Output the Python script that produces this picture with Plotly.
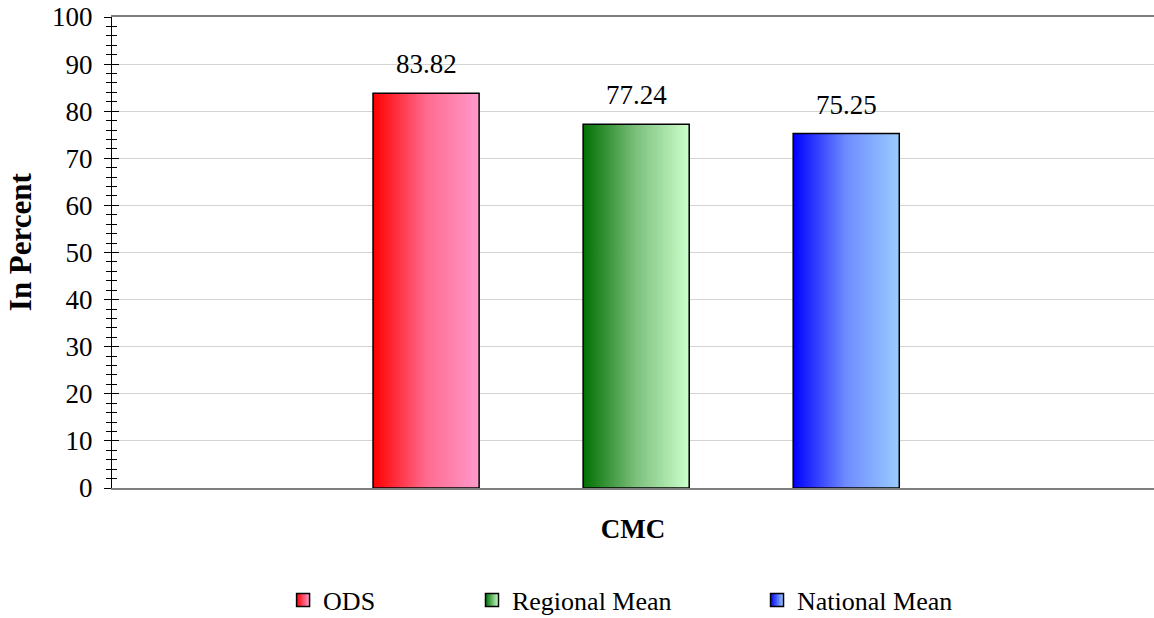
import plotly.graph_objects as go

categories = ["ODS", "Regional Mean", "National Mean"]
values = [83.82, 77.24, 75.25]
value_labels = ["83.82", "77.24", "75.25"]
group_label = "CMC"
y_title = "In Percent"
y_ticks = [0, 10, 20, 30, 40, 50, 60, 70, 80, 90, 100]

gradients = [
    [[0, "#ff0000"], [0.5, "#ff6a8e"], [1, "#ff99cc"]],
    [[0, "#007000"], [0.5, "#7cc07c"], [1, "#ccffcc"]],
    [[0, "#0000ff"], [0.5, "#6f8cff"], [1, "#99ccff"]],
]
legend_x = [0.2453, 0.4090, 0.6560]

FONT = "Liberation Serif"
FS = 27
bar_width = 0.505

fig = go.Figure()
for i, (name, v) in enumerate(zip(categories, values)):
    x0, x1 = i - bar_width / 2, i + bar_width / 2
    fig.add_trace(go.Scatter(
        x=[x0, x0, x1, x1, x0], y=[0, v, v, 0, 0],
        mode="lines", fill="toself",
        fillgradient=dict(type="horizontal", colorscale=gradients[i]),
        line=dict(color="black", width=1.5),
        name=name, showlegend=False, hoverinfo="skip",
    ))
    # legend entry with gradient square
    fig.add_trace(go.Scatter(
        x=[None], y=[None], mode="markers", name=name,
        marker=dict(symbol="square", size=13, color=gradients[i][0][1],
                    gradient=dict(type="horizontal", color=gradients[i][-1][1]),
                    line=dict(color="black", width=1.5)),
        legend="legend" if i == 0 else f"legend{i+1}",
    ))

for i, (v, t) in enumerate(zip(values, value_labels)):
    fig.add_annotation(x=i, y=v, text=t, showarrow=False, yanchor="bottom",
                       yshift=12, font=dict(family=FONT, size=FS, color="black"))

fig.add_annotation(xref="paper", yref="paper", x=-0.0883, y=0.524, text="<b>" + y_title + "</b>",
                   textangle=-90, showarrow=False, xanchor="center", yanchor="middle",
                   font=dict(family=FONT, size=31, color="black"))

# invisible trace to activate the overlay axis for crossing ticks
fig.add_trace(go.Scatter(x=[0], y=[0], yaxis="y2", mode="markers",
                         marker=dict(opacity=0), showlegend=False, hoverinfo="skip"))

legend_common = dict(orientation="h", xref="container", yref="container",
                     y=0.0291, yanchor="middle", xanchor="left",
                     font=dict(family=FONT, size=26, color="black"),
                     bgcolor="rgba(0,0,0,0)", itemwidth=30, borderwidth=0)
layout_legends = {}
for i in range(3):
    key = "legend" if i == 0 else f"legend{i+1}"
    layout_legends[key] = dict(legend_common, x=legend_x[i])

fig.update_layout(
    width=1154, height=618,
    margin=dict(l=112, r=0, t=17, b=130),
    plot_bgcolor="white", paper_bgcolor="white",
    font=dict(family=FONT, size=FS, color="black"),
    xaxis=dict(range=[-1.495, 3.465], showticklabels=False, ticks="",
               showgrid=False, zeroline=False, automargin=False,
               showline=True, linecolor="#7f7f7f", linewidth=1.5, mirror=True,
               title=dict(text="<b>" + group_label + "</b>", standoff=30,
                          font=dict(family=FONT, size=FS))),
    yaxis=dict(range=[0, 100], tickvals=y_ticks, ticks="outside", ticklen=7,
               tickwidth=1.3, tickcolor="black", ticklabelstandoff=6,
               minor=dict(dtick=2, ticks="outside", ticklen=5, tickwidth=1, tickcolor="black"),
               showgrid=True, gridcolor="#d3d3d3", gridwidth=1, zeroline=False,
               showline=True, linecolor="black", linewidth=1.3, automargin=False,
               tickfont=dict(family=FONT, size=FS)),
    yaxis2=dict(range=[0, 100], overlaying="y", side="left", tickvals=y_ticks,
                ticks="inside", ticklen=7, tickwidth=1.3, tickcolor="black",
                minor=dict(dtick=2, ticks="inside", ticklen=5, tickwidth=1, tickcolor="black"),
                showticklabels=False, showgrid=False, zeroline=False, showline=False,
                automargin=False),
    **layout_legends,
)

fig.write_html("out.html", config={"displayModeBar": False},
               post_script="document.body.style.margin='0px';document.body.style.overflow='hidden';")
